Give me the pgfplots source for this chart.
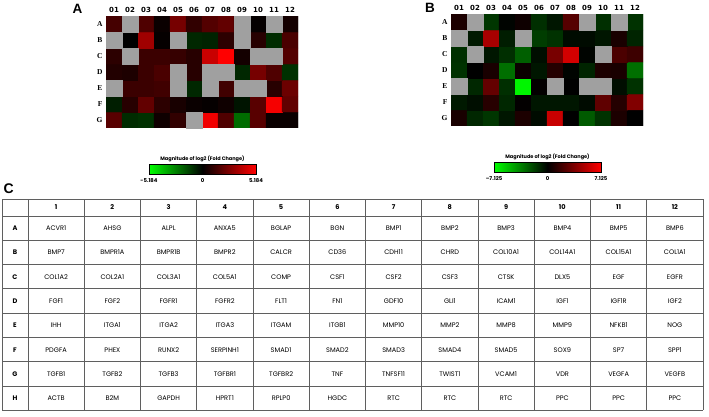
\documentclass[border=0pt]{standalone}
\usepackage{fontspec}
\setmainfont{Poppins}
\newfontfamily\dejavu{DejaVu Sans}
\newfontfamily\tms{Liberation Serif}
\newfontfamily\arl{Liberation Sans}
\usepackage{pgfplots}
\pgfplotsset{compat=1.18}
\definecolor{cellgray}{RGB}{160,160,160}
\definecolor{tblline}{RGB}{95,95,95}
\pgfplotsset{
  colormap={rg}{rgb255=(0,255,0) rgb255=(0,0,0) rgb255=(255,0,0)},
  heat/.style={
    scale only axis, width=192pt, height=112pt,
    xmin=0.5, xmax=12.5, ymin=0.5, ymax=7.5,
    axis line style={draw=none},
    major tick length=0pt,
    xtick={1,...,12},
    xticklabels={01,02,03,04,05,06,07,08,09,10,11,12},
    xticklabel pos=upper,
    ytick={1,...,7},
    yticklabels={G,F,E,D,C,B,A},
    xticklabel style={font=\fontsize{7}{7}\selectfont\dejavu\bfseries},
    yticklabel style={font=\fontsize{7.5}{7.5}\selectfont\tms\bfseries},
    colormap name=rg,
    colorbar horizontal,
    colorbar style={
      at={(parent axis.south west)}, anchor=north west,
      xshift=43pt, yshift=-27.5pt,
      scale only axis, width=107pt, height=10pt,
      major tick length=0pt,
      xticklabel style={font=\fontsize{5.3}{5.3}\selectfont\bfseries, yshift=-0.5pt},
      title style={font=\fontsize{5}{5}\selectfont\bfseries, at={(0.5,1)}, anchor=south, yshift=-4pt, inner sep=0pt},
      title={Magnitude of log2 (Fold Change)},
    },
  },
  graycell/.style={only marks, mark=square*, mark size=8pt, mark options={draw=cellgray, fill=cellgray, line width=0.3pt}},
}
\tikzset{tbl/.style={font=\fontsize{6.6}{6.6}\selectfont, text height=4.7pt, text depth=0pt, inner sep=0pt}}
\begin{document}
\begin{tikzpicture}
\useasboundingbox (0,0) rectangle (709pt,-417pt);

% ---------- Heatmap A ----------
\begin{axis}[heat, at={(106pt,-128pt)}, anchor=south west,
  point meta min=-5.184, point meta max=5.184,
  colorbar style={xtick={-5.184,0,5.184}, xticklabels={-5.184,0,5.184}}]
\addplot[matrix plot*, mesh/cols=12, point meta=explicit] coordinates {
(1,1)[1.8] (2,1)[-0.9] (3,1)[-1.0] (4,1)[0.3] (5,1)[1.0] (6,1)[0] (7,1)[4.9] (8,1)[1.6] (9,1)[-2.2] (10,1)[1.8] (11,1)[0.2] (12,1)[0.2]

(1,2)[-0.6] (2,2)[0.8] (3,2)[2.0] (4,2)[0.9] (5,2)[0.5] (6,2)[0.2] (7,2)[0.1] (8,2)[0.3] (9,2)[-0.4] (10,2)[1.8] (11,2)[5.0] (12,2)[2.0]

(1,3)[0] (2,3)[1.2] (3,3)[1.2] (4,3)[1.3] (5,3)[0] (6,3)[-0.8] (7,3)[0] (8,3)[1.3] (9,3)[0] (10,3)[0] (11,3)[0.8] (12,3)[2.2]

(1,4)[0.7] (2,4)[0.6] (3,4)[1.2] (4,4)[1.5] (5,4)[0] (6,4)[0.8] (7,4)[0] (8,4)[0] (9,4)[-0.8] (10,4)[2.4] (11,4)[1.6] (12,4)[-1.0]

(1,5)[0.9] (2,5)[0] (3,5)[1.2] (4,5)[1.2] (5,5)[1.1] (6,5)[0.8] (7,5)[4.1] (8,5)[5.18] (9,5)[0.4] (10,5)[0] (11,5)[0] (12,5)[1.7]

(1,6)[0] (2,6)[0.0] (3,6)[3.25] (4,6)[0.1] (5,6)[0] (6,6)[-0.8] (7,6)[-0.7] (8,6)[0.9] (9,6)[0] (10,6)[0.8] (11,6)[-0.9] (12,6)[1.5]

(1,7)[1.4] (2,7)[0] (3,7)[1.6] (4,7)[0.2] (5,7)[2.4] (6,7)[1.0] (7,7)[1.7] (8,7)[2.0] (9,7)[0] (10,7)[0.1] (11,7)[0] (12,7)[0.4]
};
\addplot[graycell] coordinates {
(2,7) (9,7) (11,7) (1,6) (5,6) (9,6) (2,5) (10,5) (11,5) (5,4) (7,4) (8,4) (1,3) (5,3) (7,3) (9,3) (10,3) (6,1)
};
\end{axis}

% ---------- Heatmap B ----------
\begin{axis}[heat, at={(451pt,-126pt)}, anchor=south west,
  point meta min=-7.125, point meta max=7.125,
  colorbar style={xtick={-7.125,0,7.125}, xticklabels={\textendash7.125,0,7.125}}]
\addplot[matrix plot*, mesh/cols=12, point meta=explicit] coordinates {
(1,1)[0.7] (2,1)[-1.1] (3,1)[-1.5] (4,1)[-0.6] (5,1)[0.8] (6,1)[-0.3] (7,1)[5.6] (8,1)[0] (9,1)[-2.5] (10,1)[-1.4] (11,1)[0.8] (12,1)[0]

(1,2)[-0.7] (2,2)[-0.4] (3,2)[1.1] (4,2)[-1.1] (5,2)[0.1] (6,2)[-0.6] (7,2)[-0.6] (8,2)[-0.6] (9,2)[-0.3] (10,2)[2.65] (11,2)[1.0] (12,2)[3.6]

(1,3)[0] (2,3)[-1.1] (3,3)[2.8] (4,3)[-1.3] (5,3)[-6.85] (6,3)[0.1] (7,3)[0] (8,3)[0] (9,3)[0] (10,3)[0] (11,3)[-0.4] (12,3)[-1.4]

(1,4)[-1.4] (2,4)[0] (3,4)[0.7] (4,4)[-3.1] (5,4)[0.3] (6,4)[-0.6] (7,4)[1.0] (8,4)[-0.1] (9,4)[-1.0] (10,4)[0.8] (11,4)[0.7] (12,4)[-3.1]

(1,5)[-1.3] (2,5)[0] (3,5)[-0.6] (4,5)[-1.3] (5,5)[-2.65] (6,5)[-0.4] (7,5)[3.35] (8,5)[5.9] (9,5)[-0.1] (10,5)[0] (11,5)[2.1] (12,5)[1.7]

(1,6)[0] (2,6)[-0.7] (3,6)[4.7] (4,6)[-0.8] (5,6)[0] (6,6)[-1.7] (7,6)[-1.4] (8,6)[-0.3] (9,6)[-0.3] (10,6)[-0.6] (11,6)[0.7] (12,6)[-1.0]

(1,7)[0.8] (2,7)[0] (3,7)[-1.5] (4,7)[-0.1] (5,7)[0.4] (6,7)[-1.3] (7,7)[-0.6] (8,7)[2.4] (9,7)[0] (10,7)[-1.3] (11,7)[0] (12,7)[-1.4]
};
\addplot[graycell] coordinates {
(2,7) (9,7) (11,7) (1,6) (5,6) (2,5) (10,5) (1,3) (7,3) (9,3) (10,3)
};
\end{axis}

% ---------- Panel labels ----------
\node[font=\fontsize{13.5}{13.5}\selectfont\arl\bfseries, inner sep=0pt] at (77.5pt,-8.5pt) {A};
\node[font=\fontsize{13.5}{13.5}\selectfont\arl\bfseries, inner sep=0pt] at (430pt,-7.5pt) {B};
\node[font=\fontsize{14}{14}\selectfont\arl\bfseries, inner sep=0pt] at (8.7pt,-189pt) {C};

% ---------- Table C ----------
\begin{scope}[x=1pt, y=-1pt]
\foreach \k in {0,...,12} \draw[tblline, line width=0.9pt] ({28+\k*56.25},199) -- ({28+\k*56.25},410.4);
\draw[tblline, line width=0.9pt] (2,199) -- (2,410.4);
\draw[tblline, line width=0.9pt] (2,199) -- (703,199);
\foreach \k in {0,...,8} \draw[tblline, line width=0.9pt] (2,{216+\k*24.3}) -- (703,{216+\k*24.3});
\foreach \n [count=\c] in {1,...,12} \node[tbl, font=\fontsize{6.6}{6.6}\selectfont\bfseries] at ({28+(\c-0.5)*56.25}, 207.5) {\n};
\foreach \l [count=\r] in {A,B,C,D,E,F,G,H} \node[tbl, font=\fontsize{6.6}{6.6}\selectfont\bfseries] at (15, {216+(\r-0.5)*24.3}) {\l};
\foreach \n [count=\c] in {ACVR1,AHSG,ALPL,ANXA5,BGLAP,BGN,BMP1,BMP2,BMP3,BMP4,BMP5,BMP6}
  \node[tbl] at ({28+(\c-0.5)*56.25}, {216+0.5*24.3}) {\n};
\foreach \n [count=\c] in {BMP7,BMPR1A,BMPR1B,BMPR2,CALCR,CD36,CDH11,CHRD,COL10A1,COL14A1,COL15A1,COL1A1}
  \node[tbl] at ({28+(\c-0.5)*56.25}, {216+1.5*24.3}) {\n};
\foreach \n [count=\c] in {COL1A2,COL2A1,COL3A1,COL5A1,COMP,CSF1,CSF2,CSF3,CTSK,DLX5,EGF,EGFR}
  \node[tbl] at ({28+(\c-0.5)*56.25}, {216+2.5*24.3}) {\n};
\foreach \n [count=\c] in {FGF1,FGF2,FGFR1,FGFR2,FLT1,FN1,GDF10,GLI1,ICAM1,IGF1,IGF1R,IGF2}
  \node[tbl] at ({28+(\c-0.5)*56.25}, {216+3.5*24.3}) {\n};
\foreach \n [count=\c] in {IHH,ITGA1,ITGA2,ITGA3,ITGAM,ITGB1,MMP10,MMP2,MMP8,MMP9,NFKB1,NOG}
  \node[tbl] at ({28+(\c-0.5)*56.25}, {216+4.5*24.3}) {\n};
\foreach \n [count=\c] in {PDGFA,PHEX,RUNX2,SERPINH1,SMAD1,SMAD2,SMAD3,SMAD4,SMAD5,SOX9,SP7,SPP1}
  \node[tbl] at ({28+(\c-0.5)*56.25}, {216+5.5*24.3}) {\n};
\foreach \n [count=\c] in {TGFB1,TGFB2,TGFB3,TGFBR1,TGFBR2,TNF,TNFSF11,TWIST1,VCAM1,VDR,VEGFA,VEGFB}
  \node[tbl] at ({28+(\c-0.5)*56.25}, {216+6.5*24.3}) {\n};
\foreach \n [count=\c] in {ACTB,B2M,GAPDH,HPRT1,RPLP0,HGDC,RTC,RTC,RTC,PPC,PPC,PPC}
  \node[tbl] at ({28+(\c-0.5)*56.25}, {216+7.5*24.3}) {\n};
\end{scope}
\end{tikzpicture}
\end{document}
